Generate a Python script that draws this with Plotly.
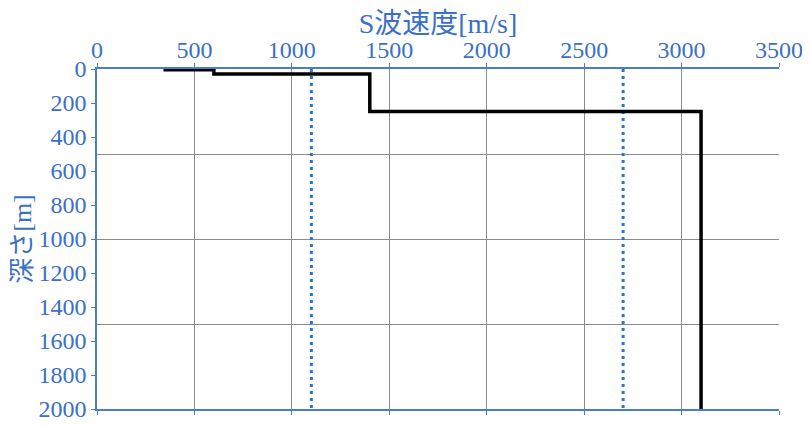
import plotly.graph_objects as go

# Layer data
velocities = [350, 600, 1400, 3100]          # S-wave velocity of each layer [m/s]
layer_tops = [0, 5, 30, 250]                 # depth of layer tops [m]
bottom_depth = 2000                          # bottom of profile [m]
reference_velocities = [1100, 2700]          # dotted reference lines [m/s]

x_ticks = [0, 500, 1000, 1500, 2000, 2500, 3000, 3500]
y_ticks = [0, 200, 400, 600, 800, 1000, 1200, 1400, 1600, 1800, 2000]
grid_depths = [500, 1000, 1500]

BLUE_TXT = "#3a70c8"
BLUE_AX = "#4a7cc8"

# step profile points
sx, sy = [], []
for i, v in enumerate(velocities):
    top = layer_tops[i]
    bot = layer_tops[i + 1] if i + 1 < len(layer_tops) else bottom_depth
    sx += [v, v]
    sy += [top, bot]

fig = go.Figure()

for rv in reference_velocities:
    fig.add_trace(go.Scatter(
        x=[rv, rv], y=[0, bottom_depth], mode="lines",
        line=dict(color="#2e72d2", width=3, dash="3px,4px"),
        showlegend=False, hoverinfo="skip"))

fig.add_trace(go.Scatter(
    x=sx, y=sy, mode="lines",
    line=dict(color="black", width=3.5),
    showlegend=False))

# invisible trace to activate the gridline-only overlay axis
fig.add_trace(go.Scatter(x=[0], y=[0], yaxis="y2", mode="markers",
                         marker=dict(opacity=0), showlegend=False, hoverinfo="skip"))

font_family = "Liberation Serif, Noto Sans CJK JP, serif"
TICK_SIZE = 24

# page body has an 8px default margin, so the figure is offset by (8, 8)
fig.update_layout(
    width=794, height=410,
    margin=dict(l=89, r=23, t=61, b=9),
    paper_bgcolor="white", plot_bgcolor="white",
    font=dict(family=font_family, color=BLUE_TXT, size=TICK_SIZE),
    xaxis=dict(
        side="top", range=[0, 3500], tickvals=x_ticks, automargin=False,
        showgrid=True, gridcolor="#8c8c8c", gridwidth=1,
        showline=True, linecolor=BLUE_AX, linewidth=1.5, mirror="ticks",
        ticks="outside", ticklen=4, tickcolor=BLUE_AX,
        ticklabelstandoff=-4, ticklabeloverflow="allow",
        tickfont=dict(size=TICK_SIZE, color=BLUE_TXT, family=font_family),
        title=dict(text="S波速度[m/s]", font=dict(size=28, color=BLUE_TXT, family=font_family), standoff=3),
        zeroline=False,
    ),
    yaxis=dict(
        range=[bottom_depth, 0], tickvals=y_ticks, automargin=False,
        showgrid=False, ticklabeloverflow="allow",
        showline=True, linecolor=BLUE_AX, linewidth=1.5,
        ticks="outside", ticklen=4, tickcolor=BLUE_AX,
        tickfont=dict(size=TICK_SIZE, color=BLUE_TXT, family=font_family),
        title=dict(text="深さ[m]", font=dict(size=26, color=BLUE_TXT, family=font_family), standoff=2),
        zeroline=False,
    ),
    yaxis2=dict(
        overlaying="y", range=[bottom_depth, 0], tickvals=grid_depths,
        showgrid=True, gridcolor="#8c8c8c", gridwidth=1, automargin=False,
        showticklabels=False, ticks="", showline=False, zeroline=False,
    ),
)

fig.write_html("out.html")
